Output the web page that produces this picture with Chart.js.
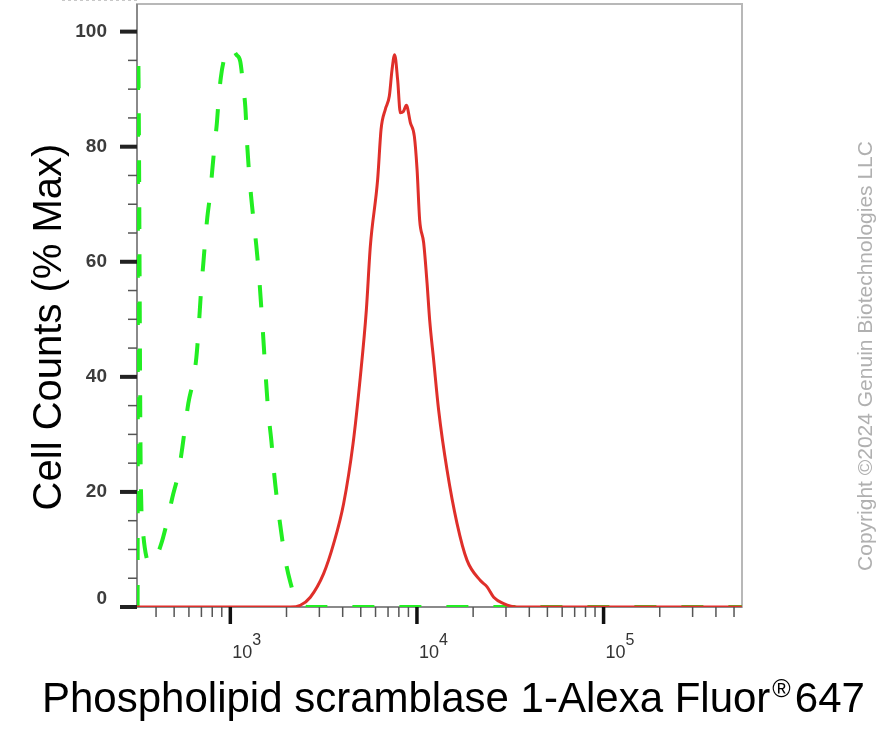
<!DOCTYPE html>
<html>
<head>
    <meta charset="utf-8">
    <title>PLSCR1 flow histogram</title>
    <script src="https://cdn.jsdelivr.net/npm/chart.js"></script>
    <style>
        body {
            margin: 0;
            background-color: #fff;
        }

        #wrap {
            width: 896px;
            height: 730px;
        }
    </style>
</head>
<body>
    <div id="wrap"><canvas id="histo" width="896" height="730"></canvas></div>

    <script>
        // isotype control (green dashed) - fluorescence intensity / % max
        var isoX = [318.6, 320.6, 331.4, 341.8, 354.6, 372.6, 396.3, 426.7, 459.6, 488.9,
                    526.4, 553.1, 574, 595.6, 633.5, 657.4, 673.8, 686.3, 699.2, 716.7,
                    734.5, 752.8, 781.2, 800.7, 825.8, 846.6, 867.7, 889.3, 928.6, 975.6,
                    1025, 1077, 1131, 1174, 1204, 1233, 1280, 1328, 1378, 1430,
                    1484, 1540, 1598, 1659, 1721, 1808, 1900, 1996, 2097, 2230,
                    2372, 2618, 551000];
        var isoY = [0, 96, 22, 12.5, 8.8, 7.5, 8.4, 11, 15, 19,
                    23.2, 27.7, 31.6, 35.4, 39.5, 43.3, 47.6, 51.6, 55.6, 59.7,
                    64, 67.7, 72, 76, 80.6, 84, 88.6, 92, 95.4, 97.2,
                    97, 96, 94.8, 90.3, 86.8, 80, 72.9, 67.6, 62.8, 56.9,
                    49.4, 41.2, 33.8, 28.9, 22.9, 16.8, 11.6, 7.3, 4.3, 1.5,
                    0.5, 0, 0];

        // PLSCR1 stained sample (red)
        var stainX = [316.2, 2097, 2372, 2684, 3162, 3578, 4048, 4546, 4973, 5356,
                      5627, 6158, 6422, 6770, 7113, 7355, 7595, 7881, 8147, 8456,
                      8775, 9219, 9685, 10012, 10339, 10863, 11328, 11697, 12289, 13071,
                      14497, 16402, 18559, 21867, 23760, 25773, 29148, 34393, 551000];
        var stainY = [0, 0, 0.3, 1.7, 5.8, 11.0, 18.0, 28.4, 40.0, 51.6,
                      62.7, 74.3, 83.0, 86.5, 88.8, 93.4, 96.0, 91.6, 85.9, 86.1,
                      87.2, 84.2, 81.8, 76.1, 67.3, 63.3, 56.3, 49.9, 42.9, 34.2,
                      23.8, 14.5, 8.1, 4.6, 3.5, 1.7, 0.6, 0, 0];

        // axis ticks
        var yMajor = [0, 20, 40, 60, 80, 100];
        var yMinor = [5, 10, 15, 25, 30, 35, 45, 50, 55, 65, 70, 75, 85, 90, 95];
        var xMajor = [1000, 10000, 100000];
        var xExp = ['3', '4', '5'];
        var xMinor = [400, 500, 600, 700, 800, 900,
                      2000, 3000, 4000, 5000, 6000, 7000, 8000, 9000,
                      20000, 30000, 40000, 50000, 60000, 70000, 80000, 90000,
                      200000, 300000, 400000, 500000];

        var yTitle = 'Cell Counts (% Max)';
        var xTitle = 'Phospholipid scramblase 1-Alexa Fluor';
        var xTitleMark = '\u00ae';
        var xTitleEnd = '647';
        var credit = 'Copyright \u00a92024 Genuin Biotechnologies LLC';

        function toPoints(xs, ys) {
            var pts = [];
            for (var i = 0; i < xs.length; i++) {
                pts.push({ x: xs[i], y: ys[i] });
            }
            return pts;
        }

        var FONT = '"Liberation Sans", Arial, sans-serif';

        // frame, ticks, labels and titles
        var axesPlugin = {
            id: 'axesPlugin',
            beforeDatasetsDraw: function (chart) {
                var ctx = chart.ctx;
                var a = chart.chartArea;
                var xs = chart.scales.x;
                var ys = chart.scales.y;
                ctx.save();

                // faint dotted line at the very top
                ctx.strokeStyle = '#c8c8c8';
                ctx.lineWidth = 1;
                ctx.setLineDash([3, 3]);
                ctx.beginPath();
                ctx.moveTo(62, 0.5);
                ctx.lineTo(a.left, 0.5);
                ctx.stroke();
                ctx.setLineDash([]);

                // frame
                ctx.strokeStyle = '#b8b8b8';
                ctx.lineWidth = 2;
                ctx.strokeRect(a.left, a.top, a.right - a.left, a.bottom - a.top);
                ctx.strokeStyle = '#8a8a8a';
                ctx.beginPath();
                ctx.moveTo(a.left, a.top);
                ctx.lineTo(a.left, a.bottom);
                ctx.lineTo(a.right, a.bottom);
                ctx.stroke();

                // y ticks
                ctx.strokeStyle = '#555';
                ctx.lineWidth = 1.5;
                yMinor.forEach(function (v) {
                    var py = ys.getPixelForValue(v);
                    ctx.beginPath();
                    ctx.moveTo(a.left - 9, py);
                    ctx.lineTo(a.left, py);
                    ctx.stroke();
                });
                ctx.strokeStyle = '#222';
                ctx.lineWidth = 4;
                yMajor.forEach(function (v) {
                    var py = ys.getPixelForValue(v);
                    ctx.beginPath();
                    ctx.moveTo(a.left - 17, py);
                    ctx.lineTo(a.left, py);
                    ctx.stroke();
                });

                // x ticks
                ctx.strokeStyle = '#555';
                ctx.lineWidth = 1.5;
                xMinor.forEach(function (v) {
                    var px = xs.getPixelForValue(v);
                    ctx.beginPath();
                    ctx.moveTo(px, a.bottom);
                    ctx.lineTo(px, a.bottom + 10);
                    ctx.stroke();
                });
                ctx.strokeStyle = '#111';
                ctx.lineWidth = 3.5;
                xMajor.forEach(function (v) {
                    var px = xs.getPixelForValue(v);
                    ctx.beginPath();
                    ctx.moveTo(px, a.bottom);
                    ctx.lineTo(px, a.bottom + 17);
                    ctx.stroke();
                });

                // y tick labels
                ctx.fillStyle = '#3c3c3c';
                ctx.font = 'bold 19px ' + FONT;
                ctx.textAlign = 'right';
                ctx.textBaseline = 'middle';
                yMajor.forEach(function (v) {
                    var py = ys.getPixelForValue(v);
                    if (v === 0) py -= 8;
                    ctx.fillText(String(v), a.left - 30, py);
                });

                // x tick labels: 10 with superscript exponent
                ctx.fillStyle = '#333';
                ctx.textAlign = 'left';
                ctx.textBaseline = 'alphabetic';
                xMajor.forEach(function (v, i) {
                    var px = xs.getPixelForValue(v) + 2;
                    ctx.font = '18px ' + FONT;
                    ctx.fillText('10', px, 658);
                    var w = ctx.measureText('10').width;
                    ctx.font = '16px ' + FONT;
                    ctx.fillText(xExp[i], px + w, 645);
                });

                // y axis title
                ctx.fillStyle = '#000';
                ctx.save();
                ctx.translate(61, 327);
                ctx.rotate(-Math.PI / 2);
                ctx.font = '40px ' + FONT;
                ctx.textAlign = 'center';
                ctx.fillText(yTitle, 0, 0);
                ctx.restore();

                // x axis title with registered mark
                ctx.font = '42px ' + FONT;
                ctx.textAlign = 'left';
                var x0 = 42;
                ctx.fillText(xTitle, x0, 712);
                x0 += ctx.measureText(xTitle).width + 2;
                ctx.font = '25px ' + FONT;
                ctx.fillText(xTitleMark, x0, 697);
                x0 += ctx.measureText(xTitleMark).width + 4;
                ctx.font = '42px ' + FONT;
                ctx.fillText(xTitleEnd, x0, 712);

                // copyright note
                ctx.save();
                ctx.translate(872, 356);
                ctx.rotate(-Math.PI / 2);
                ctx.fillStyle = '#b0b0b0';
                ctx.font = '21px ' + FONT;
                ctx.textAlign = 'center';
                ctx.fillText(credit, 0, 0);
                ctx.restore();

                ctx.restore();
            }
        };

        var ctx = document.getElementById('histo').getContext('2d');
        var histo = new Chart(ctx, {
            type: 'line',
            data: {
                datasets: [{
                    label: 'Isotype control',
                    data: toPoints(isoX, isoY),
                    borderColor: '#22ee22',
                    borderWidth: 4,
                    borderDash: [22, 25],
                    cubicInterpolationMode: 'monotone',
                    pointRadius: 0,
                    fill: false,
                    order: 2
                }, {
                    label: 'PLSCR1',
                    data: toPoints(stainX, stainY),
                    borderColor: '#df2f2a',
                    borderWidth: 3,
                    cubicInterpolationMode: 'monotone',
                    pointRadius: 0,
                    fill: false,
                    order: 1
                }]
            },
            options: {
                responsive: false,
                animation: false,
                devicePixelRatio: 1,
                layout: {
                    padding: { left: 137, top: 4, right: 154, bottom: 123 }
                },
                plugins: {
                    legend: { display: false },
                    tooltip: { enabled: false }
                },
                scales: {
                    x: {
                        type: 'logarithmic',
                        min: 316.2,
                        max: 551700,
                        display: false
                    },
                    y: {
                        type: 'linear',
                        min: 0,
                        max: 104.8,
                        display: false
                    }
                }
            },
            plugins: [axesPlugin]
        });
    </script>
</body>
</html>
